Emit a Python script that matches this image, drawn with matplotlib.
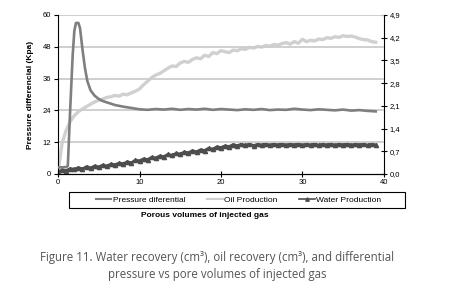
import numpy as np
import matplotlib.pyplot as plt
from matplotlib.lines import Line2D
from matplotlib.patches import Rectangle
from matplotlib.ticker import FuncFormatter

plt.rcParams['font.family'] = ['Liberation Sans', 'DejaVu Sans']

# pressure differential (Kpa), left axis
pv_pressure = [0, 0.5, 1.0, 1.2, 1.5, 1.8, 2.0, 2.2, 2.5, 2.7, 3.0, 3.3, 3.6, 4.0,
               4.5, 5.0, 5.5, 6.0, 7.0, 8.0, 9.0, 10.0, 11, 12, 13, 14, 15, 16,
               17, 18, 19, 20, 21, 22, 23, 24, 25, 26, 27, 28, 29, 30, 31, 32,
               33, 34, 35, 36, 37, 38, 39]
pressure = [2.5, 2.5, 2.6, 3.0, 25, 45, 54, 57, 57, 55, 47, 40, 35, 31.5,
            29.5, 28.3, 27.5, 27.0, 26.0, 25.4, 24.9, 24.4, 24.2, 24.5, 24.3, 24.6, 24.2, 24.5,
            24.3, 24.6, 24.2, 24.5, 24.3, 24.1, 24.4, 24.2, 24.5, 24.1, 24.3, 24.2, 24.6, 24.3,
            24.1, 24.4, 24.2, 24.0, 24.3, 23.9, 24.1, 23.8, 23.6]

# oil and water production (cm3), right axis, every 0.5 pore volumes
pv = np.arange(0, 39.5, 0.5)
oil = [0.05, 0.95, 1.35, 1.62, 1.80, 1.92, 2.00, 2.08, 2.15, 2.22,
       2.27, 2.31, 2.36, 2.38, 2.42, 2.40, 2.46, 2.44, 2.50, 2.55,
       2.62, 2.75, 2.86, 2.97, 3.05, 3.10, 3.18, 3.26, 3.33, 3.31,
       3.42, 3.47, 3.44, 3.53, 3.58, 3.55, 3.66, 3.62, 3.74, 3.71,
       3.80, 3.77, 3.74, 3.82, 3.80, 3.86, 3.84, 3.90, 3.88, 3.93,
       3.91, 3.96, 3.94, 3.99, 3.97, 4.02, 4.05, 4.00, 4.08, 4.03,
       4.15, 4.08, 4.12, 4.10, 4.16, 4.14, 4.20, 4.18, 4.23, 4.21,
       4.26, 4.24, 4.25, 4.22, 4.17, 4.14, 4.13, 4.08, 4.06]
water = [0.05, 0.12, 0.10, 0.16, 0.14, 0.19, 0.15, 0.22, 0.18, 0.24,
         0.21, 0.27, 0.24, 0.30, 0.28, 0.33, 0.31, 0.37, 0.34, 0.42,
         0.40, 0.46, 0.44, 0.51, 0.49, 0.55, 0.53, 0.60, 0.57, 0.63,
         0.61, 0.67, 0.65, 0.71, 0.68, 0.74, 0.72, 0.79, 0.76, 0.83,
         0.81, 0.86, 0.84, 0.90, 0.87, 0.91, 0.88, 0.92, 0.87, 0.91,
         0.89, 0.93, 0.88, 0.92, 0.89, 0.93, 0.88, 0.92, 0.89, 0.93,
         0.88, 0.92, 0.89, 0.93, 0.88, 0.92, 0.89, 0.93, 0.88, 0.92,
         0.89, 0.93, 0.88, 0.92, 0.89, 0.93, 0.88, 0.92, 0.89]

left_ticks = [0, 12, 24, 36, 48, 60]
right_ticks = [0.0, 0.7, 1.4, 2.1, 2.8, 3.5, 4.2, 4.9]
x_ticks = [0, 10, 20, 30, 40]

c_press = '#7f7f7f'
c_oil = '#d0d0d0'
c_water = '#4d4d4d'

fig = plt.figure(figsize=(4.5, 3.03), dpi=100)
ax = fig.add_axes([0.129, 0.426, 0.724, 0.5245])
ax2 = ax.twinx()

ax.set_xlim(0, 40)
ax.set_ylim(0, 60)
ax2.set_ylim(0, 4.9)
ax.set_yticks(left_ticks)
ax2.set_yticks(right_ticks)
ax.set_xticks(x_ticks)

for t in left_ticks[1:]:
    ax.axhline(t, color='#cccccc', lw=1.3, zorder=0)

ax2.plot(pv, oil, color=c_oil, lw=2.4, zorder=2)
ax2.plot(pv, water, color=c_water, lw=2.2, marker='^', ms=3, zorder=3)
ax.plot(pv_pressure, pressure, color=c_press, lw=1.9, zorder=3)
ax.set_zorder(ax2.get_zorder() + 1)
ax.patch.set_visible(False)

for a in (ax, ax2):
    a.spines['top'].set_visible(False)
    a.tick_params(labelsize=5.5, width=0.8, length=3, pad=2)
ax.spines['right'].set_visible(False)
ax2.spines['left'].set_visible(False)
ax2.tick_params(axis='y', direction='inout', length=4)
ax.tick_params(axis='x', direction='inout', length=4)
ax2.yaxis.set_major_formatter(FuncFormatter(lambda v, p: f'{v:.1f}'.replace('.', ',')))

ax.set_ylabel('Pressure differencial (Kpa)', fontsize=6, fontweight='bold', labelpad=6)

# legend box below the plot
fig.patches.append(Rectangle((69 / 450, 1 - 208 / 303), 336 / 450, 16 / 303,
                             transform=fig.transFigure, fill=False,
                             edgecolor='black', lw=0.8))
handles = [Line2D([], [], color=c_press, lw=1.5),
           Line2D([], [], color=c_oil, lw=1.5),
           Line2D([], [], color=c_water, lw=1.2, marker='^', ms=2.5)]
labels = ['Pressure diferential', 'Oil Production', 'Water Production']
fig.legend(handles, labels, ncol=3, loc='center',
           bbox_to_anchor=(0.53, 0.34), fontsize=6, frameon=False,
           handlelength=1.9, columnspacing=2.6, handletextpad=0.15)

fig.text(0.455, 0.29, 'Porous volumes of injected gas', ha='center', va='center',
         fontsize=6, fontweight='bold')
fig.text(0.482, 0.122, 'Figure 11. Water recovery (cm\u00b3), oil recovery (cm\u00b3), and differential\n'
         'pressure vs pore volumes of injected gas', ha='center', va='center',
         fontsize=8.3, color='#555555', linespacing=1.4,
         family=['Open Sans', 'DejaVu Sans'])

fig.savefig('out.png', dpi=100)
